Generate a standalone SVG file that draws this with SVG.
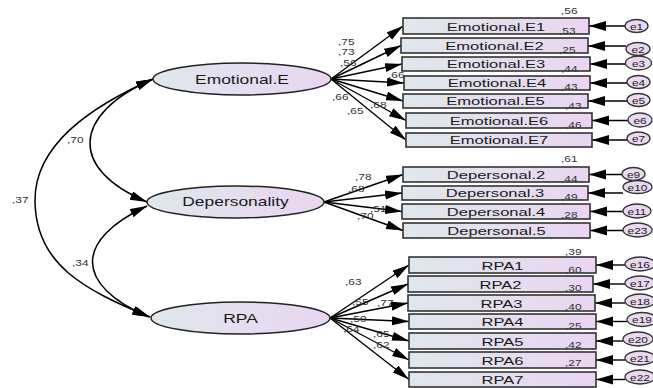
<svg xmlns="http://www.w3.org/2000/svg" width="653" height="388" viewBox="0 0 653 388">
<defs>
<linearGradient id="gr" x1="0" y1="0" x2="1" y2="0">
<stop offset="0" stop-color="#dfe7ec"/>
<stop offset="1" stop-color="#ead5f2"/>
</linearGradient>
<marker id="ah" markerUnits="userSpaceOnUse" markerWidth="18" markerHeight="10" refX="17" refY="4.5" orient="auto-start-reverse">
<path d="M0,0 L17,4.5 L0,9 z" fill="#000"/>
</marker>
<marker id="eh" markerUnits="userSpaceOnUse" markerWidth="18" markerHeight="11" refX="17" refY="5" orient="auto">
<path d="M0,0 L17,5 L0,10 z" fill="#000"/>
</marker>
</defs>
<style>
.lat{fill:url(#gr);stroke:#222;stroke-width:1.5}
.box{fill:url(#gr);stroke:#333;stroke-width:1.6}
.err{fill:#ead8f0;stroke:#333;stroke-width:1.3}
.ln{fill:none;stroke:#000;stroke-width:1.4}
.cv{fill:none;stroke:#000;stroke-width:1.5}
text{font-family:"Liberation Sans",Arial,sans-serif}
.lt{font-size:13px;fill:#1a1a1a;text-anchor:middle}
.bt{font-size:11.5px;fill:#1a1a1a;text-anchor:middle}
.et{font-size:9.5px;fill:#222;text-anchor:middle}
.nm{font-size:9.5px;fill:#333}
</style>

<g id="connectors">
<path class="cv" d="M153,79 C70,115 70,170 147,202" marker-start="url(#ah)" marker-end="url(#ah)"/>
<path class="cv" d="M153,79 C90,107 35,145 35,200 C35,265 85,290 150,317" marker-start="url(#ah)" marker-end="url(#ah)"/>
<path class="cv" d="M147,206 C74,240 74,285 149,317" marker-start="url(#ah)" marker-end="url(#ah)"/>
<line class="ln" x1="331" y1="79" x2="403" y2="26" marker-end="url(#ah)"/>
<line class="ln" x1="331" y1="79" x2="401" y2="45.5" marker-end="url(#ah)"/>
<line class="ln" x1="331" y1="79" x2="402" y2="64" marker-end="url(#ah)"/>
<line class="ln" x1="331" y1="79" x2="404" y2="83" marker-end="url(#ah)"/>
<line class="ln" x1="331" y1="79" x2="403" y2="101" marker-end="url(#ah)"/>
<line class="ln" x1="331" y1="79" x2="406" y2="120.5" marker-end="url(#ah)"/>
<line class="ln" x1="331" y1="79" x2="406" y2="140" marker-end="url(#ah)"/>
<line class="ln" x1="324" y1="202" x2="403" y2="174.5" marker-end="url(#ah)"/>
<line class="ln" x1="324" y1="202" x2="402" y2="193" marker-end="url(#ah)"/>
<line class="ln" x1="324" y1="202" x2="402" y2="211.5" marker-end="url(#ah)"/>
<line class="ln" x1="324" y1="202" x2="403" y2="230.5" marker-end="url(#ah)"/>
<line class="ln" x1="330" y1="318" x2="409" y2="265" marker-end="url(#ah)"/>
<line class="ln" x1="330" y1="318" x2="408" y2="284" marker-end="url(#ah)"/>
<line class="ln" x1="330" y1="318" x2="408" y2="303" marker-end="url(#ah)"/>
<line class="ln" x1="330" y1="318" x2="409" y2="321.5" marker-end="url(#ah)"/>
<line class="ln" x1="330" y1="318" x2="409" y2="341" marker-end="url(#ah)"/>
<line class="ln" x1="330" y1="318" x2="409" y2="360" marker-end="url(#ah)"/>
<line class="ln" x1="330" y1="318" x2="409" y2="379.5" marker-end="url(#ah)"/>
<line class="ln" x1="625" y1="26" x2="589" y2="26" marker-end="url(#eh)"/>
<line class="ln" x1="626" y1="46" x2="588" y2="46" marker-end="url(#eh)"/>
<line class="ln" x1="626" y1="64" x2="590" y2="64" marker-end="url(#eh)"/>
<line class="ln" x1="627" y1="83" x2="590" y2="83" marker-end="url(#eh)"/>
<line class="ln" x1="627" y1="101" x2="588" y2="101" marker-end="url(#eh)"/>
<line class="ln" x1="628" y1="120.5" x2="592" y2="120.5" marker-end="url(#eh)"/>
<line class="ln" x1="627" y1="140" x2="592" y2="140" marker-end="url(#eh)"/>
<line class="ln" x1="622" y1="174.5" x2="589" y2="174.5" marker-end="url(#eh)"/>
<line class="ln" x1="623" y1="193" x2="588" y2="193" marker-end="url(#eh)"/>
<line class="ln" x1="623" y1="211.5" x2="590" y2="211.5" marker-end="url(#eh)"/>
<line class="ln" x1="623" y1="230.5" x2="590" y2="230.5" marker-end="url(#eh)"/>
<line class="ln" x1="625" y1="265" x2="596" y2="265" marker-end="url(#eh)"/>
<line class="ln" x1="625" y1="284" x2="593" y2="284" marker-end="url(#eh)"/>
<line class="ln" x1="625" y1="303" x2="595" y2="303" marker-end="url(#eh)"/>
<line class="ln" x1="627" y1="321.5" x2="596" y2="321.5" marker-end="url(#eh)"/>
<line class="ln" x1="623" y1="341" x2="596" y2="341" marker-end="url(#eh)"/>
<line class="ln" x1="625" y1="360" x2="596" y2="360" marker-end="url(#eh)"/>
<line class="ln" x1="625" y1="379.5" x2="596" y2="379.5" marker-end="url(#eh)"/>
</g>

<g id="cov-labels">
<text class="nm" transform="translate(67,143) scale(1.25,1)">,70</text>
<text class="nm" transform="translate(12,203) scale(1.25,1)">,37</text>
<text class="nm" transform="translate(72,266) scale(1.25,1)">,34</text>
</g>

<g id="Emotional.E">
<ellipse class="lat" cx="242" cy="79" rx="89" ry="16"/>
<text class="lt" transform="translate(242,84) scale(1.34,1)">Emotional.E</text>
</g>
<g id="Depersonality">
<ellipse class="lat" cx="235.5" cy="202" rx="88.5" ry="16"/>
<text class="lt" transform="translate(235.5,206) scale(1.34,1)">Depersonality</text>
</g>
<g id="RPA">
<ellipse class="lat" cx="240.5" cy="318" rx="89.5" ry="16"/>
<text class="lt" transform="translate(240.5,323) scale(1.34,1)">RPA</text>
</g>

<g id="loading-labels">
<text class="nm" transform="translate(338,45) scale(1.25,1)">,75</text>
<text class="nm" transform="translate(338,55) scale(1.25,1)">,73</text>
<text class="nm" transform="translate(340,66) scale(1.25,1)">,56</text>
<text class="nm" transform="translate(388,78) scale(1.25,1)">,66</text>
<text class="nm" transform="translate(332,100) scale(1.25,1)">,66</text>
<text class="nm" transform="translate(370,108) scale(1.25,1)">,68</text>
<text class="nm" transform="translate(347,114) scale(1.25,1)">,65</text>
<text class="nm" transform="translate(355,180) scale(1.25,1)">,78</text>
<text class="nm" transform="translate(348,192) scale(1.25,1)">,68</text>
<text class="nm" transform="translate(370,212) scale(1.25,1)">,51</text>
<text class="nm" transform="translate(357,219) scale(1.25,1)">,70</text>
<text class="nm" transform="translate(345,285) scale(1.25,1)">,63</text>
<text class="nm" transform="translate(352,305) scale(1.25,1)">,55</text>
<text class="nm" transform="translate(377,306) scale(1.25,1)">,77</text>
<text class="nm" transform="translate(350,322) scale(1.25,1)">,50</text>
<text class="nm" transform="translate(343,332) scale(1.25,1)">,64</text>
<text class="nm" transform="translate(373,337) scale(1.25,1)">,65</text>
<text class="nm" transform="translate(373,348) scale(1.25,1)">,62</text>
</g>

<g id="Emotional.E1"><rect class="box" x="403" y="18" width="186" height="16"/><text class="bt" transform="translate(496,31) scale(1.44,1)">Emotional.E1</text></g>
<g id="Emotional.E2"><rect class="box" x="401" y="38" width="187" height="15"/><text class="bt" transform="translate(494.5,50) scale(1.44,1)">Emotional.E2</text></g>
<g id="Emotional.E3"><rect class="box" x="402" y="57" width="188" height="14"/><text class="bt" transform="translate(496,68) scale(1.44,1)">Emotional.E3</text></g>
<g id="Emotional.E4"><rect class="box" x="404" y="76" width="186" height="14"/><text class="bt" transform="translate(497,87) scale(1.44,1)">Emotional.E4</text></g>
<g id="Emotional.E5"><rect class="box" x="403" y="94" width="185" height="14"/><text class="bt" transform="translate(495.5,105) scale(1.44,1)">Emotional.E5</text></g>
<g id="Emotional.E6"><rect class="box" x="406" y="113" width="186" height="15"/><text class="bt" transform="translate(499,125) scale(1.44,1)">Emotional.E6</text></g>
<g id="Emotional.E7"><rect class="box" x="406" y="133" width="186" height="14"/><text class="bt" transform="translate(499,144) scale(1.44,1)">Emotional.E7</text></g>
<g id="Depersonal.2"><rect class="box" x="403" y="167" width="186" height="15"/><text class="bt" transform="translate(496,179) scale(1.44,1)">Depersonal.2</text></g>
<g id="Depersonal.3"><rect class="box" x="402" y="186" width="186" height="14"/><text class="bt" transform="translate(495,197) scale(1.44,1)">Depersonal.3</text></g>
<g id="Depersonal.4"><rect class="box" x="402" y="204" width="188" height="15"/><text class="bt" transform="translate(496,216) scale(1.44,1)">Depersonal.4</text></g>
<g id="Depersonal.5"><rect class="box" x="403" y="223" width="187" height="15"/><text class="bt" transform="translate(496.5,235) scale(1.44,1)">Depersonal.5</text></g>
<g id="RPA1"><rect class="box" x="409" y="257" width="187" height="16"/><text class="bt" transform="translate(502.5,270) scale(1.44,1)">RPA1</text></g>
<g id="RPA2"><rect class="box" x="408" y="276" width="185" height="16"/><text class="bt" transform="translate(500.5,289) scale(1.44,1)">RPA2</text></g>
<g id="RPA3"><rect class="box" x="408" y="295" width="187" height="16"/><text class="bt" transform="translate(501.5,308) scale(1.44,1)">RPA3</text></g>
<g id="RPA4"><rect class="box" x="409" y="314" width="187" height="15"/><text class="bt" transform="translate(502.5,326) scale(1.44,1)">RPA4</text></g>
<g id="RPA5"><rect class="box" x="409" y="333" width="187" height="16"/><text class="bt" transform="translate(502.5,346) scale(1.44,1)">RPA5</text></g>
<g id="RPA6"><rect class="box" x="409" y="352" width="187" height="16"/><text class="bt" transform="translate(502.5,365) scale(1.44,1)">RPA6</text></g>
<g id="RPA7"><rect class="box" x="409" y="372" width="187" height="15"/><text class="bt" transform="translate(502.5,384) scale(1.44,1)">RPA7</text></g>

<g id="r2-labels">
<text class="nm" transform="translate(561,14) scale(1.25,1)">,56</text>
<text class="nm" transform="translate(559,34) scale(1.25,1)">,53</text>
<text class="nm" transform="translate(559,53) scale(1.25,1)">,25</text>
<text class="nm" transform="translate(561,72) scale(1.25,1)">,44</text>
<text class="nm" transform="translate(561,90) scale(1.25,1)">,43</text>
<text class="nm" transform="translate(565,109) scale(1.25,1)">,43</text>
<text class="nm" transform="translate(565,128) scale(1.25,1)">,46</text>
<text class="nm" transform="translate(561,162) scale(1.25,1)">,61</text>
<text class="nm" transform="translate(561,182) scale(1.25,1)">,44</text>
<text class="nm" transform="translate(561,200) scale(1.25,1)">,49</text>
<text class="nm" transform="translate(561,218) scale(1.25,1)">,28</text>
<text class="nm" transform="translate(565,255) scale(1.25,1)">,39</text>
<text class="nm" transform="translate(565,273) scale(1.25,1)">,60</text>
<text class="nm" transform="translate(565,291) scale(1.25,1)">,30</text>
<text class="nm" transform="translate(565,310) scale(1.25,1)">,40</text>
<text class="nm" transform="translate(565,329) scale(1.25,1)">,25</text>
<text class="nm" transform="translate(565,348) scale(1.25,1)">,42</text>
<text class="nm" transform="translate(565,366) scale(1.25,1)">,27</text>
</g>

<g id="e1"><ellipse class="err" cx="636.5" cy="26" rx="11.5" ry="6.5"/><text class="et" transform="translate(636.5,29.5) scale(1.25,1)">e1</text></g>
<g id="e2"><ellipse class="err" cx="638" cy="49" rx="12" ry="6.5"/><text class="et" transform="translate(638,52.5) scale(1.25,1)">e2</text></g>
<g id="e3"><ellipse class="err" cx="638.5" cy="63" rx="13" ry="7"/><text class="et" transform="translate(638.5,66.5) scale(1.25,1)">e3</text></g>
<g id="e4"><ellipse class="err" cx="638.5" cy="82" rx="11.5" ry="6.5"/><text class="et" transform="translate(638.5,85.5) scale(1.25,1)">e4</text></g>
<g id="e5"><ellipse class="err" cx="638.5" cy="100" rx="11.5" ry="6.5"/><text class="et" transform="translate(638.5,103.5) scale(1.25,1)">e5</text></g>
<g id="e6"><ellipse class="err" cx="640" cy="120" rx="12" ry="7"/><text class="et" transform="translate(640,123.5) scale(1.25,1)">e6</text></g>
<g id="e7"><ellipse class="err" cx="638.5" cy="138.5" rx="11.5" ry="6.5"/><text class="et" transform="translate(638.5,142) scale(1.25,1)">e7</text></g>
<g id="e9"><ellipse class="err" cx="633.5" cy="174" rx="11.5" ry="6.5"/><text class="et" transform="translate(633.5,177.5) scale(1.25,1)">e9</text></g>
<g id="e10"><ellipse class="err" cx="637.5" cy="187" rx="14.5" ry="6.5"/><text class="et" transform="translate(637.5,190.5) scale(1.25,1)">e10</text></g>
<g id="e11"><ellipse class="err" cx="637" cy="211" rx="14" ry="7"/><text class="et" transform="translate(637,214.5) scale(1.25,1)">e11</text></g>
<g id="e23"><ellipse class="err" cx="637.5" cy="230" rx="14.5" ry="7"/><text class="et" transform="translate(637.5,233.5) scale(1.25,1)">e23</text></g>
<g id="e16"><ellipse class="err" cx="640" cy="264" rx="15" ry="7"/><text class="et" transform="translate(640,267.5) scale(1.25,1)">e16</text></g>
<g id="e17"><ellipse class="err" cx="640" cy="283" rx="15" ry="7"/><text class="et" transform="translate(640,286.5) scale(1.25,1)">e17</text></g>
<g id="e18"><ellipse class="err" cx="640" cy="301" rx="15" ry="7"/><text class="et" transform="translate(640,304.5) scale(1.25,1)">e18</text></g>
<g id="e19"><ellipse class="err" cx="642" cy="319.5" rx="15" ry="7"/><text class="et" transform="translate(642,323) scale(1.25,1)">e19</text></g>
<g id="e20"><ellipse class="err" cx="638" cy="339" rx="15" ry="7"/><text class="et" transform="translate(638,342.5) scale(1.25,1)">e20</text></g>
<g id="e21"><ellipse class="err" cx="640" cy="358" rx="15" ry="7"/><text class="et" transform="translate(640,361.5) scale(1.25,1)">e21</text></g>
<g id="e22"><ellipse class="err" cx="640" cy="377" rx="15" ry="7"/><text class="et" transform="translate(640,380.5) scale(1.25,1)">e22</text></g>
</svg>
